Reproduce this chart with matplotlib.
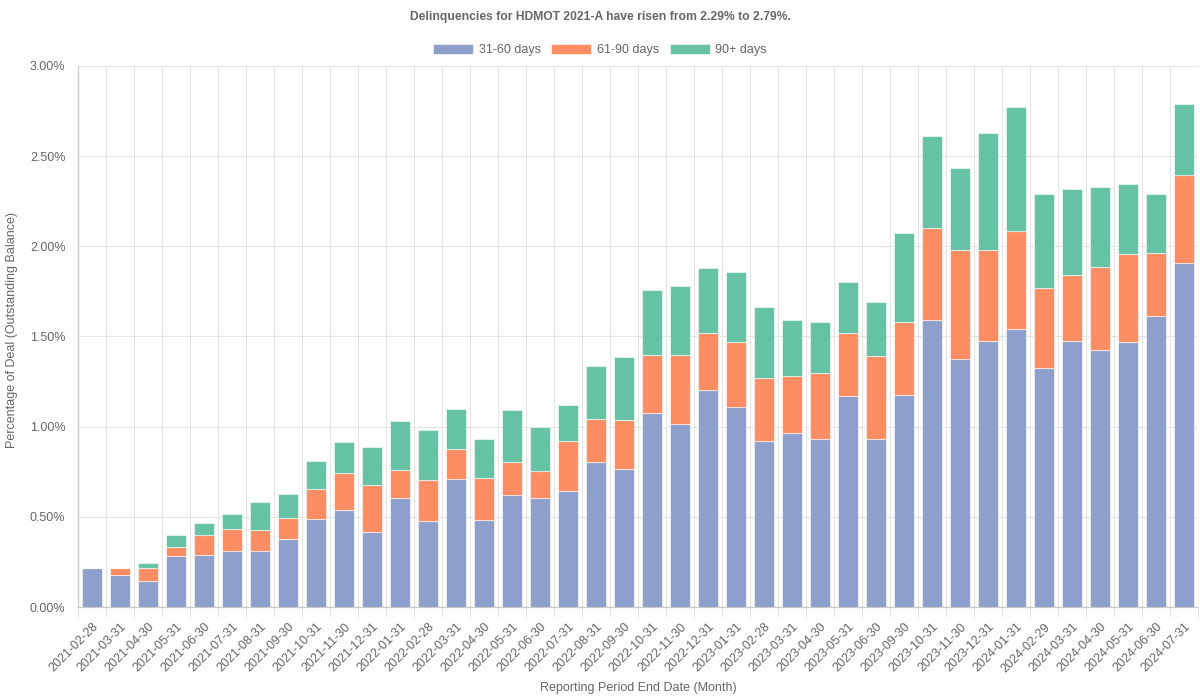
import matplotlib
matplotlib.use("Agg")
import matplotlib.pyplot as plt
from matplotlib.ticker import FixedLocator, FuncFormatter
import numpy as np

plt.rcParams['font.family'] = ['Liberation Sans', 'DejaVu Sans']

dates = ["2021-02-28", "2021-03-31", "2021-04-30", "2021-05-31", "2021-06-30", "2021-07-31",
         "2021-08-31", "2021-09-30", "2021-10-31", "2021-11-30", "2021-12-31", "2022-01-31",
         "2022-02-28", "2022-03-31", "2022-04-30", "2022-05-31", "2022-06-30", "2022-07-31",
         "2022-08-31", "2022-09-30", "2022-10-31", "2022-11-30", "2022-12-31", "2023-01-31",
         "2023-02-28", "2023-03-31", "2023-04-30", "2023-05-31", "2023-06-30", "2023-09-30",
         "2023-10-31", "2023-11-30", "2023-12-31", "2024-01-31", "2024-02-29", "2024-03-31",
         "2024-04-30", "2024-05-31", "2024-06-30", "2024-07-31"]

d31_60 = [0.215, 0.180, 0.144, 0.283, 0.289, 0.311, 0.309, 0.378, 0.489, 0.539,
          0.415, 0.606, 0.478, 0.711, 0.481, 0.620, 0.602, 0.641, 0.804, 0.767,
          1.078, 1.017, 1.204, 1.109, 0.922, 0.963, 0.930, 1.172, 0.930, 1.176,
          1.590, 1.377, 1.474, 1.542, 1.328, 1.474, 1.425, 1.470, 1.613, 1.907]

d61_90 = [0.000, 0.035, 0.071, 0.052, 0.113, 0.124, 0.117, 0.115, 0.168, 0.202,
          0.263, 0.151, 0.224, 0.163, 0.236, 0.186, 0.154, 0.279, 0.239, 0.272,
          0.320, 0.383, 0.315, 0.361, 0.350, 0.320, 0.370, 0.350, 0.460, 0.403,
          0.509, 0.604, 0.507, 0.544, 0.443, 0.368, 0.458, 0.488, 0.351, 0.490]

d90p = [0.000, 0.000, 0.029, 0.065, 0.063, 0.078, 0.155, 0.135, 0.154, 0.172,
        0.211, 0.274, 0.278, 0.226, 0.213, 0.288, 0.244, 0.200, 0.292, 0.350,
        0.359, 0.378, 0.361, 0.390, 0.389, 0.308, 0.281, 0.278, 0.302, 0.497,
        0.514, 0.452, 0.649, 0.688, 0.517, 0.474, 0.448, 0.388, 0.324, 0.392]

series_names = ["31-60 days", "61-90 days", "90+ days"]
colors = ["#8da0cb", "#fc8d62", "#66c2a5"]
yticks = [0.0, 0.5, 1.0, 1.5, 2.0, 2.5, 3.0]

title = "Delinquencies for HDMOT 2021-A have risen from 2.29% to 2.79%."

W, H = 1200, 700
fig = plt.figure(figsize=(12, 7), dpi=100)
ax = fig.add_axes([78 / W, (H - 607) / H, 1120 / W, 541 / H])

x = np.arange(len(dates))
a = np.array(d31_60)
b = np.array(d61_90)
c = np.array(d90p)
width = 0.72
bars = []
bottom = np.zeros(len(x))
for vals, col, name in zip([a, b, c], colors, series_names):
    h = ax.bar(x, vals, width, bottom=bottom, color=col, edgecolor=(1, 1, 1, 0.55),
               linewidth=0.8, label=name, zorder=3)
    bars.append(h)
    bottom = bottom + vals

ax.set_xlim(-0.5, len(x) - 0.5)
ax.set_ylim(0, 3.0)

grid_c = "#e4e4e4"
ax.yaxis.set_major_locator(FixedLocator(yticks))
ax.yaxis.set_major_formatter(FuncFormatter(lambda v, p: f"{v:.2f}%"))
ax.tick_params(axis='y', length=0, pad=9, labelsize=9, labelcolor="#666666")
ax.grid(axis='y', color=grid_c, linewidth=0.8, zorder=0)

ax.set_xticks(x)
ax.set_xticklabels(dates, rotation=45, ha='right', rotation_mode='anchor')
ax.tick_params(axis='x', which='major', length=0, pad=10, labelsize=9, labelcolor="#666666")
ax.set_xticks(np.arange(-0.5, len(x), 1.0), minor=True)
ax.tick_params(axis='x', which='minor', length=7, color=grid_c, width=0.8)
ax.grid(axis='x', which='minor', color=grid_c, linewidth=0.8, zorder=0)

for s in ['top', 'right']:
    ax.spines[s].set_visible(False)
for s in ['left', 'bottom']:
    ax.spines[s].set_color("#c8c8c8")
    ax.spines[s].set_linewidth(0.9)

fig.text(0.5, 1 - 17 / H, title, ha='center', va='center', fontsize=8.7,
         fontweight='bold', color="#666666")
fig.legend(handles=bars, labels=series_names, loc='center', bbox_to_anchor=(0.5, 1 - 50 / H),
           ncol=3, frameon=False, fontsize=9, handlelength=3.2, handleheight=0.95,
           handletextpad=0.45, columnspacing=0.85, labelcolor="#666666")
fig.text(12 / W, 1 - 330 / H, "Percentage of Deal (Outstanding Balance)", rotation=90,
         ha='center', va='center', fontsize=9, color="#666666")
fig.text(638 / W, 1 - 688 / H, "Reporting Period End Date (Month)", ha='center', va='center',
         fontsize=9, color="#666666")

fig.savefig("out.png", dpi=100)
